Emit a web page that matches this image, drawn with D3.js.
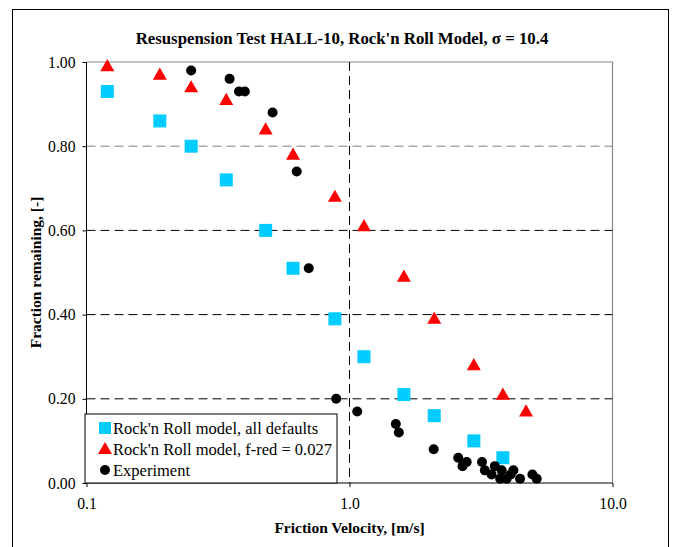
<!DOCTYPE html>
<html>
<head>
    <title>Resuspension Test HALL-10</title>
    <script src="https://d3js.org/d3.v7.min.js"></script>
    <style>
        body { margin: 0; background: #fff; }
        text { font-family: "Liberation Serif", "Times New Roman", serif; fill: #000; }
        .title, .axis-title { font-weight: bold; }
    </style>
</head>
<body>
<div id="chart"></div>
<script>
    // Data
    const defaultsVel  = [0.12, 0.19, 0.25, 0.34, 0.48, 0.61, 0.88, 1.135, 1.61, 2.10, 2.97, 3.83];
    const defaultsFrac = [0.93, 0.86, 0.80, 0.72, 0.60, 0.51, 0.39, 0.30, 0.21, 0.16, 0.10, 0.06];

    const fredVel  = [0.12, 0.19, 0.25, 0.34, 0.48, 0.61, 0.88, 1.135, 1.61, 2.10, 2.97, 3.83, 4.69];
    const fredFrac = [0.99, 0.97, 0.94, 0.91, 0.84, 0.78, 0.68, 0.61, 0.49, 0.39, 0.28, 0.21, 0.17];

    const expVel  = [0.25, 0.35, 0.38, 0.40, 0.51, 0.63, 0.70, 0.89, 1.07, 1.50, 1.54, 2.09, 2.59, 2.69, 2.79,
                     3.19, 3.27, 3.47, 3.57, 3.74, 3.79, 3.96, 4.20, 4.10, 4.45, 4.96, 5.15];
    const expFrac = [0.98, 0.96, 0.93, 0.93, 0.88, 0.74, 0.51, 0.20, 0.17, 0.14, 0.12, 0.08, 0.06, 0.04, 0.05,
                     0.05, 0.03, 0.02, 0.04, 0.01, 0.03, 0.01, 0.03, 0.02, 0.01, 0.02, 0.01];

    const xTicks = [0.1, 1, 10];
    const yTicks = [0, 0.2, 0.4, 0.6, 0.8, 1.0];
    const legendLabels = ["Rock'n Roll model, all defaults", "Rock'n Roll model, f-red = 0.027", "Experiment"];

    // Layout
    const W = 673, H = 547;
    const margin = {top: 62, right: 60.5, bottom: 64, left: 86.5},
        width = W - margin.left - margin.right,
        height = H - margin.top - margin.bottom;

    const x = d3.scaleLog().domain([0.1, 10]).range([0, width]);
    const y = d3.scaleLinear().domain([0, 1]).range([height, 0]);

    const svgRoot = d3.select("#chart").append("svg")
        .attr("width", W)
        .attr("height", H);

    // outer frame
    svgRoot.append("rect")
        .attr("x", 12.5).attr("y", 9.5)
        .attr("width", 656).attr("height", 545)
        .attr("fill", "#fff").attr("stroke", "#000").attr("stroke-width", 1);

    svgRoot.append("text")
        .attr("class", "title")
        .attr("x", 342).attr("y", 44)
        .attr("text-anchor", "middle")
        .style("font-size", "16.8px")
        .text("Resuspension Test HALL-10, Rock'n Roll Model, σ = 10.4");

    const svg = svgRoot.append("g")
        .attr("transform", "translate(" + margin.left + "," + margin.top + ")");

    // plot border (top and right grey)
    svg.append("path")
        .attr("d", "M0,0H" + width + "V" + height)
        .attr("fill", "none").attr("stroke", "#888").attr("stroke-width", 1.2);

    // horizontal grid
    svg.selectAll(".hgrid")
        .data(yTicks.filter(d => d > 0 && d < 1))
      .enter().append("line")
        .attr("class", "hgrid")
        .attr("x1", 0).attr("x2", width)
        .attr("y1", d => y(d)).attr("y2", d => y(d))
        .attr("stroke", d => d === 0.8 ? "#808080" : "#000")
        .attr("stroke-width", 1)
        .attr("stroke-dasharray", "9,5");

    // vertical grid at 1.0
    svg.append("line")
        .attr("x1", x(1)).attr("x2", x(1))
        .attr("y1", 0).attr("y2", height)
        .attr("stroke", "#000")
        .attr("stroke-dasharray", "9,5");

    // axes
    const yAxis = svg.append("g")
        .call(d3.axisLeft(y).tickValues(yTicks).tickFormat(d3.format(".2f")).tickSize(4).tickPadding(7));
    const xAxis = svg.append("g")
        .attr("transform", "translate(0," + height + ")")
        .call(d3.axisBottom(x).tickValues(xTicks).tickFormat(d3.format(".1f")).tickSize(4).tickPadding(11));
    [xAxis, yAxis].forEach(a => {
        a.select(".domain").attr("stroke", "#000");
        a.selectAll("text").style("font-size", "15.7px").style("font-family", "Liberation Serif, serif");
    });
    xAxis.select(".domain").attr("d", "M0,0H" + width);
    yAxis.select(".domain").attr("d", "M0," + height + "V0");

    // axis titles
    svg.append("text")
        .attr("class", "axis-title")
        .attr("x", width / 2).attr("y", height + 50)
        .attr("text-anchor", "middle")
        .style("font-size", "15.5px")
        .text("Friction Velocity, [m/s]");
    svg.append("text")
        .attr("class", "axis-title")
        .attr("transform", "rotate(-90)")
        .attr("x", -height / 2).attr("y", -46)
        .attr("text-anchor", "middle")
        .style("font-size", "15.5px")
        .text("Fraction remaining, [-]");

    const tri = d3.symbol().type(d3.symbolTriangle).size(85);

    // markers
    svg.selectAll(".sq")
        .data(d3.zip(defaultsVel, defaultsFrac))
      .enter().append("rect")
        .attr("x", d => x(d[0]) - 6.5).attr("y", d => y(d[1]) - 6.5)
        .attr("width", 13).attr("height", 13)
        .attr("fill", "#00ccff");

    svg.selectAll(".tri")
        .data(d3.zip(fredVel, fredFrac))
      .enter().append("path")
        .attr("d", tri)
        .attr("transform", d => "translate(" + x(d[0]) + "," + (y(d[1]) + 1) + ")")
        .attr("fill", "#ff0000");

    svg.selectAll(".dot")
        .data(d3.zip(expVel, expFrac))
      .enter().append("circle")
        .attr("cx", d => x(d[0])).attr("cy", d => y(d[1]))
        .attr("r", 5)
        .attr("fill", "#000");

    // legend
    const lg = svg.append("g").attr("transform", "translate(-1.5," + (height - 69) + ")");
    lg.append("rect")
        .attr("width", 252).attr("height", 69)
        .attr("fill", "#fff").attr("stroke", "#000").attr("stroke-width", 1);
    legendLabels.forEach((lab, i) => {
        const cy = 14 + i * 21;
        const row = lg.append("g").attr("transform", "translate(20," + cy + ")");
        if (i === 0) row.append("rect").attr("x", -6).attr("y", -6).attr("width", 12).attr("height", 12).attr("fill", "#00ccff");
        if (i === 1) row.append("path").attr("d", tri).attr("transform", "translate(0,1)").attr("fill", "#ff0000");
        if (i === 2) row.append("circle").attr("r", 5).attr("fill", "#000");
        row.append("text")
            .attr("x", 8).attr("y", 5.5)
            .style("font-size", "16.5px")
            .text(lab);
    });
</script>
</body>
</html>
